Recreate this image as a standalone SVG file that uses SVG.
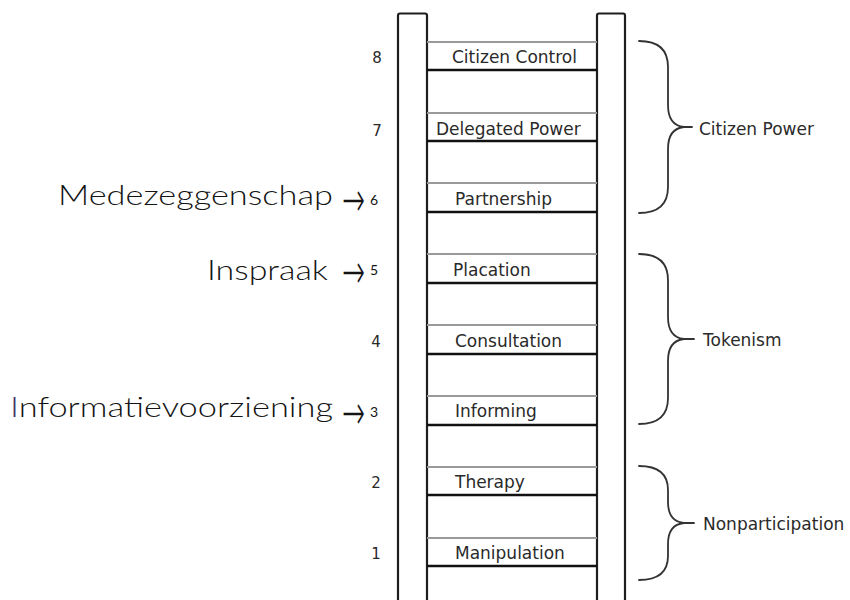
<svg xmlns="http://www.w3.org/2000/svg" width="850" height="600" viewBox="0 0 850 600">
  <style>
    .rail { fill: #ffffff; stroke: #1e1e1e; stroke-width: 2.2; }
    .top { stroke: #9a9a9a; stroke-width: 2; }
    .bot { stroke: #111111; stroke-width: 2.6; }
    .lbl { font-family: "DejaVu Sans", sans-serif; font-size: 17px; fill: #2a2a2a; }
    .num { font-family: "DejaVu Sans", sans-serif; font-size: 15px; fill: #2a2a2a; text-anchor: middle; }
    .nl { font-family: Lato, "Noto Sans", sans-serif; font-weight: 300; font-size: 28px; fill: #141414; }
    .arr { font-family: "DejaVu Sans", sans-serif; font-weight: 200; font-size: 30px; fill: #141414; }
    .nln { font-family: Lato, "Noto Sans", sans-serif; font-size: 14px; fill: #141414; }
    .brace { fill: none; stroke: #333333; stroke-width: 1.8; stroke-linecap: round; }
    .grp { font-family: "DejaVu Sans", sans-serif; font-size: 17px; fill: #2a2a2a; }
  </style>
  <rect width="850" height="600" fill="#ffffff"/>

  <!-- ladder rails -->
  <g id="rails">
    <rect class="rail" x="398" y="13.5" width="29" height="600" rx="2"/>
    <rect class="rail" x="597" y="13.5" width="28" height="600" rx="2"/>
  </g>

  <!-- rungs: grey upper edge, black lower edge, label, step number -->
  <g id="rung-8">
    <line class="top" x1="427" y1="42" x2="597" y2="42"/>
    <line class="bot" x1="427" y1="70" x2="597" y2="70"/>
    <text class="lbl" x="452" y="63">Citizen Control</text>
    <text class="num" x="377" y="63">8</text>
  </g>
  <g id="rung-7">
    <line class="top" x1="427" y1="113" x2="597" y2="113"/>
    <line class="bot" x1="427" y1="141" x2="597" y2="141"/>
    <text class="lbl" x="436" y="135">Delegated Power</text>
    <text class="num" x="377" y="136">7</text>
  </g>
  <g id="rung-6">
    <line class="top" x1="427" y1="183" x2="597" y2="183"/>
    <line class="bot" x1="427" y1="212" x2="597" y2="212"/>
    <text class="lbl" x="455" y="205">Partnership</text>
  </g>
  <g id="rung-5">
    <line class="top" x1="427" y1="254" x2="597" y2="254"/>
    <line class="bot" x1="427" y1="283" x2="597" y2="283"/>
    <text class="lbl" x="453" y="276">Placation</text>
  </g>
  <g id="rung-4">
    <line class="top" x1="427" y1="325" x2="597" y2="325"/>
    <line class="bot" x1="427" y1="354" x2="597" y2="354"/>
    <text class="lbl" x="455" y="347">Consultation</text>
    <text class="num" x="376" y="347">4</text>
  </g>
  <g id="rung-3">
    <line class="top" x1="427" y1="396" x2="597" y2="396"/>
    <line class="bot" x1="427" y1="425" x2="597" y2="425"/>
    <text class="lbl" x="455" y="417">Informing</text>
  </g>
  <g id="rung-2">
    <line class="top" x1="427" y1="467" x2="597" y2="467"/>
    <line class="bot" x1="427" y1="495" x2="597" y2="495"/>
    <text class="lbl" x="455" y="488">Therapy</text>
    <text class="num" x="376" y="488">2</text>
  </g>
  <g id="rung-1">
    <line class="top" x1="427" y1="538" x2="597" y2="538"/>
    <line class="bot" x1="427" y1="566" x2="597" y2="566"/>
    <text class="lbl" x="455" y="559">Manipulation</text>
    <text class="num" x="376" y="559">1</text>
  </g>

  <!-- Dutch annotations pointing at steps 6, 5 and 3 (arrow glyph stretched taller) -->
  <g id="note-medezeggenschap">
    <text class="nl" x="58" y="205" textLength="275" lengthAdjust="spacingAndGlyphs">Medezeggenschap</text>
    <text class="arr" transform="translate(342,198) scale(1,1.6)" x="0" y="11" textLength="23" lengthAdjust="spacingAndGlyphs">→</text>
    <text class="nln" x="370" y="205">6</text>
  </g>
  <g id="note-inspraak">
    <text class="nl" x="207" y="280" textLength="121" lengthAdjust="spacingAndGlyphs">Inspraak</text>
    <text class="arr" transform="translate(342,270) scale(1,1.6)" x="0" y="11" textLength="23" lengthAdjust="spacingAndGlyphs">→</text>
    <text class="nln" x="370" y="275">5</text>
  </g>
  <g id="note-informatievoorziening">
    <text class="nl" x="10" y="417" textLength="323" lengthAdjust="spacingAndGlyphs"><tspan fill="#3d3566">I</tspan>nformatievoorziening</text>
    <text class="arr" transform="translate(342,411) scale(1,1.6)" x="0" y="11" textLength="23" lengthAdjust="spacingAndGlyphs">→</text>
    <text class="nln" x="370" y="417">3</text>
  </g>

  <!-- group braces -->
  <g id="connectors">
    <path class="brace" d="M639,41 C655,41 668,47 668,67 L668,105 C668,119 674,126 684,127 L692,127 M684,127 C674,128 668,135 668,149 L668,187 C668,207 655,213 639,213"/>
    <path class="brace" d="M639,254 C655,254 668,260 668,280 L668,317 C668,331 674,338 684,339 L694,339 M684,339 C674,340 668,347 668,361 L668,398 C668,418 655,424 639,424"/>
    <path class="brace" d="M639,466 C655,466 668,472 668,490 L668,502 C668,515 674,522 684,523 L694,523 M684,523 C674,524 668,531 668,544 L668,556 C668,574 655,580 639,580"/>
  </g>

  <g id="group-citizen-power">
    <text class="grp" x="699" y="135">Citizen Power</text>
  </g>
  <g id="group-tokenism">
    <text class="grp" x="703" y="346">Tokenism</text>
  </g>
  <g id="group-nonparticipation">
    <text class="grp" x="703" y="530">Nonparticipation</text>
  </g>
</svg>
